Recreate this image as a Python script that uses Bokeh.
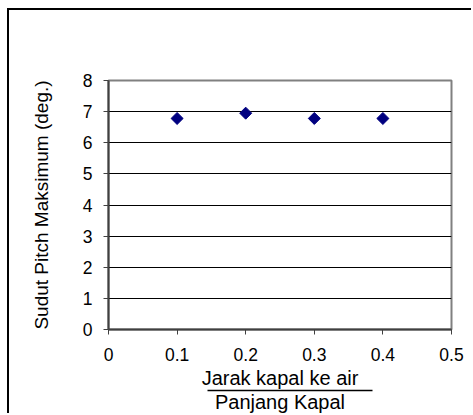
import math
from bokeh.plotting import figure
from bokeh.models import FixedTicker, Range1d, Title, LinearAxis
from bokeh.embed import file_html
from bokeh.resources import INLINE

# data
x_ratio = [0.1, 0.2, 0.3, 0.4]
pitch_max = [6.78, 6.95, 6.78, 6.78]
x_ticks = [0, 0.1, 0.2, 0.3, 0.4, 0.5]
x_tick_labels = ["0", "0.1", "0.2", "0.3", "0.4", "0.5"]
y_ticks = [0, 1, 2, 3, 4, 5, 6, 7, 8]
y_label = "Sudut Pitch Maksimum (deg.)"
x_label_top = "Jarak kapal ke air"
x_label_bottom = "Panjang Kapal"

FONT = "Liberation Sans"

p = figure(width=464, height=405, output_backend="svg", toolbar_location=None,
           x_range=Range1d(0, 0.5), y_range=Range1d(0, 8),
           min_border_left=99, min_border_right=22, min_border_top=70, min_border_bottom=86)
p.styles = {"margin-left": "7px", "margin-top": "8px",
            "border-left": "2px solid black", "border-top": "2px solid black"}
p.background_fill_color = "white"
p.border_fill_color = "white"
p.outline_line_color = "#808080"
p.outline_line_width = 2

# axes
p.xaxis.ticker = FixedTicker(ticks=x_ticks)
p.xaxis.major_label_overrides = {t: l for t, l in zip(x_ticks, x_tick_labels)}
p.yaxis.ticker = FixedTicker(ticks=y_ticks)
for ax in (p.xaxis, p.yaxis):
    ax.axis_line_color = "#404040"
    ax.axis_line_width = 2
    ax.major_tick_line_color = "#404040"
    ax.major_tick_line_width = 1
    ax.major_tick_out = 5
    ax.major_tick_in = 0
    ax.minor_tick_out = 0
    ax.minor_tick_in = 0
    ax.major_label_text_font = FONT
    ax.major_label_text_font_size = "17.5px"
    ax.major_label_text_color = "black"
p.xaxis.major_label_standoff = 13
p.yaxis.major_label_standoff = 11

p.xgrid.visible = False
p.ygrid.ticker = FixedTicker(ticks=[1, 2, 3, 4, 5, 6, 7])
p.ygrid.grid_line_color = "black"
p.ygrid.grid_line_width = 1

# data markers
p.scatter(x_ratio, pitch_max, marker="square", angle=math.pi / 4, size=8.5,
          fill_color="#000080", line_color="#000080")

# y-axis label on its own bare axis (bounds nudge its centre a little upwards)
ylab = LinearAxis(bounds=(0.45, 8), ticker=FixedTicker(ticks=[]),
                  axis_line_color=None, major_label_text_font_size="0px",
                  major_tick_out=0, minor_tick_out=0,
                  axis_label=y_label, axis_label_text_font=FONT,
                  axis_label_text_font_size="19px", axis_label_text_font_style="normal",
                  axis_label_text_color="black", axis_label_standoff=28)
p.add_layout(ylab, "left")

# x-axis label written as a fraction
t_top = Title(text=x_label_top, align="center", offset=10, text_font=FONT,
              text_font_size="20px", text_font_style="normal", text_color="black",
              standoff=3)
p.add_layout(t_top, "below")
bar = LinearAxis(bounds=(0.1443, 0.3848), ticker=FixedTicker(ticks=[]),
                 axis_line_color="black", axis_line_width=1.3,
                 major_label_text_font_size="0px", major_tick_out=0, minor_tick_out=0)
p.add_layout(bar, "below")
t_bot = Title(text=x_label_bottom, align="center", offset=12, text_font=FONT,
              text_font_size="20px", text_font_style="normal", text_color="black",
              standoff=0, vertical_align="top")
p.add_layout(t_bot, "below")

open("out.html", "w").write(file_html(p, INLINE))
